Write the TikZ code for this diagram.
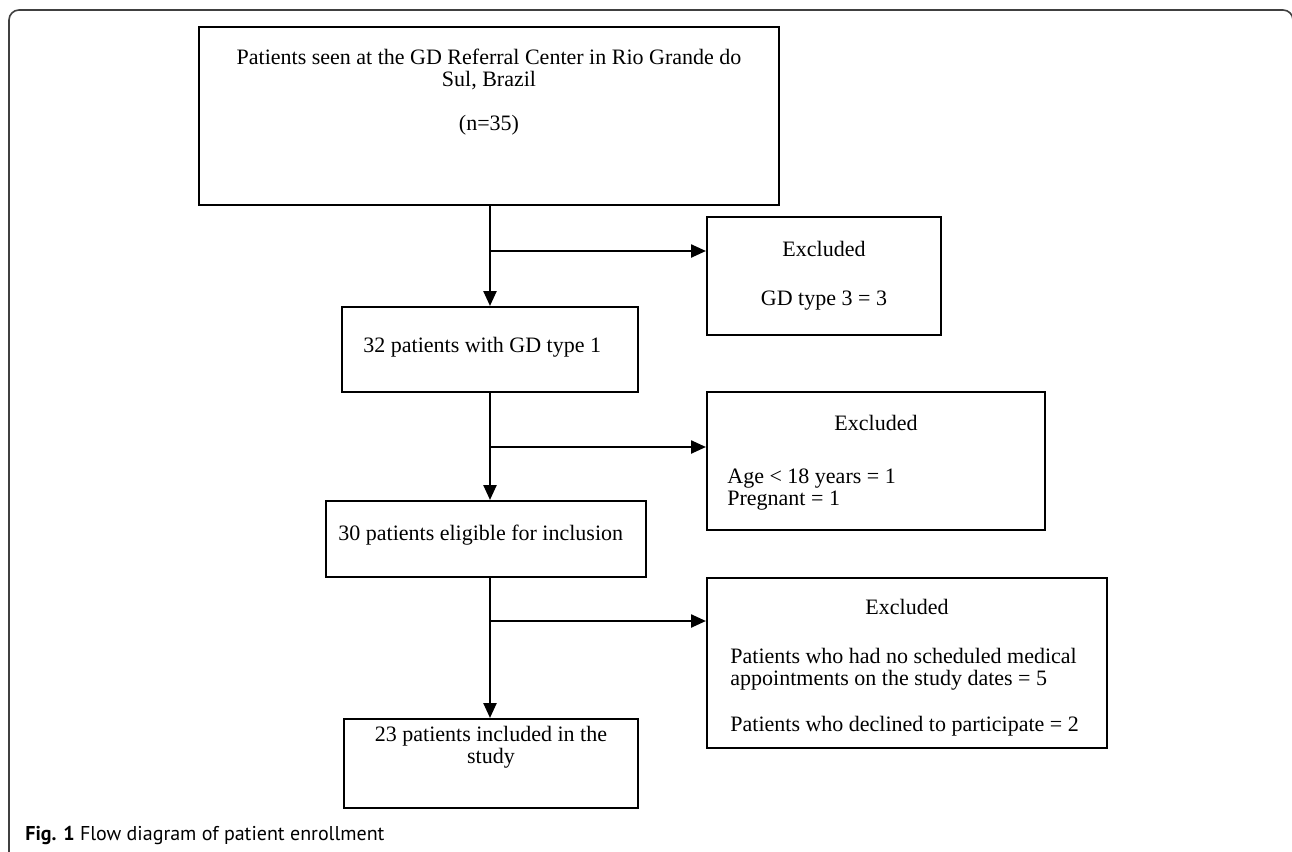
\documentclass[tikz,border=0pt]{standalone}
\usepackage{fontspec}
\setmainfont{Liberation Serif}
\newfontfamily\capfont{PT Sans}
\usetikzlibrary{arrows.meta}

\begin{document}
\begin{tikzpicture}[x=0.5pt,y=-0.5pt,
  box/.style={draw,line width=1pt,inner sep=0pt},
  txt/.style={inner sep=0pt,font=\fontsize{11}{11}\selectfont},
  flow/.style={line width=1.2pt,-{Triangle[length=7.5pt,width=6.5pt]}}]
\path[use as bounding box,clip] (0,0) rectangle (1292,852);
\draw[line width=0.8pt,color=black!75,rounded corners=5pt] (9,900) -- (9,10) -- (1293,10) -- (1293,900);

\node[box,minimum width=290pt,minimum height=89pt] (start) at (489,116) {};
\node[box,minimum width=117pt,minimum height=59pt] (exc1) at (824,276) {};
\node[box,minimum width=148pt,minimum height=42.5pt] (gd1) at (490,349.5) {};
\node[box,minimum width=169pt,minimum height=69pt] (exc2) at (876,461) {};
\node[box,minimum width=160pt,minimum height=38pt] (elig) at (486,539) {};
\node[box,minimum width=200pt,minimum height=85pt] (exc3) at (907,663) {};
\node[box,minimum width=147pt,minimum height=44.5pt] (incl) at (491,763.5) {};

\coordinate (b1) at (490,251);
\coordinate (b2) at (490,447);
\coordinate (b3) at (490,621);

\path[draw,flow] (start.south -| b1) -- (b1 |- gd1.north);
\path[draw,flow] (b1) -- (b1 -| exc1.west);
\path[draw,flow] (gd1.south -| b2) -- (b2 |- elig.north);
\path[draw,flow] (b2) -- (b2 -| exc2.west);
\path[draw,flow] (elig.south -| b3) -- (b3 |- incl.north);
\path[draw,flow] (b3) -- (b3 -| exc3.west);

\node[txt,anchor=base,align=center] (starttxt) at (489,130) {Patients seen at the GD Referral Center in Rio Grande do\\Sul, Brazil\\[11pt](n=35)};
\node[txt,anchor=base] (exc1head) at (824,256) {Excluded};
\node[txt,anchor=base] (exc1txt) at (824,305) {GD type 3 = 3};
\node[txt,anchor=base west] (gd1txt) at (363,352) {32 patients with GD type 1};
\node[txt,anchor=base] (exc2head) at (876,430) {Excluded};
\node[txt,anchor=base west,align=left] (exc2txt) at (727,505) {Age < 18 years = 1\\Pregnant = 1};
\node[txt,anchor=base west] (eligtxt) at (338,540) {30 patients eligible for inclusion};
\node[txt,anchor=base] (exc3head) at (907,614) {Excluded};
\node[txt,anchor=base west,align=left] (exc3txt) at (730,731) {Patients who had no scheduled medical\\appointments on the study dates = 5\\[12pt]Patients who declined to participate = 2};
\node[txt,anchor=base,align=center] (incltxt) at (491,763) {23 patients included in the\\study};

\node[anchor=base west,inner sep=0pt,font=\capfont\fontsize{10}{12}\selectfont] (caption) at (25,840) {\textbf{Fig. 1} Flow diagram of patient enrollment};
\end{tikzpicture}
\end{document}
